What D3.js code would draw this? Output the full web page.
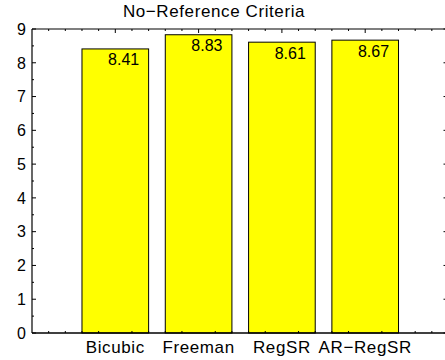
<!DOCTYPE html>
<html>
<head>
<meta charset="utf-8">
<script src="https://cdn.jsdelivr.net/npm/d3@7"></script>
<style>
html,body{margin:0;padding:0;background:#fff;}
svg{display:block;}
text{font-family:"Liberation Sans",Arial,Helvetica,sans-serif;fill:#000;}
</style>
</head>
<body>
<script>
const categories = ["Bicubic", "Freeman", "RegSR", "AR\u2212RegSR"];
const values = [8.41, 8.83, 8.61, 8.67];
const valueLabels = ["8.41", "8.83", "8.61", "8.67"];
const yTicks = [0, 1, 2, 3, 4, 5, 6, 7, 8, 9];
const title = "No\u2212Reference Criteria";

const W = 445, H = 360;
const svg = d3.select("body").append("svg").attr("width", W).attr("height", H);

const x = d3.scaleLinear().domain([0, 5]).range([32, 448.5]);
const y = d3.scaleLinear().domain([0, 9]).range([333, 29]);
const barW = 0.8;

// bars
svg.append("g").selectAll("rect").data(values).join("rect")
  .attr("x", (d, i) => x(i + 1 - barW / 2))
  .attr("y", d => y(d))
  .attr("width", x(barW) - x(0))
  .attr("height", d => y(0) - y(d))
  .attr("fill", "#ffff00")
  .attr("stroke", "#000")
  .attr("stroke-width", 1);

// value labels
svg.append("g").selectAll("text").data(values).join("text")
  .attr("x", (d, i) => x(i + 1.1))
  .attr("y", d => y(d) + 16.5)
  .attr("text-anchor", "middle")
  .attr("font-size", 16)
  .text((d, i) => valueLabels[i]);

// axes box
const x0 = x(0), x1 = x(5), yb = y(0), yt = y(9);
const box = svg.append("g").attr("stroke", "#000").attr("fill", "none");
box.append("line").attr("x1", x0).attr("x2", x0).attr("y1", yt).attr("y2", yb).attr("stroke-width", 1.2);
box.append("line").attr("x1", x0).attr("x2", x1).attr("y1", yb).attr("y2", yb).attr("stroke-width", 1.5);
box.append("line").attr("x1", x0).attr("x2", x1).attr("y1", yt).attr("y2", yt).attr("stroke-width", 1.2);
box.append("line").attr("x1", x1).attr("x2", x1).attr("y1", yt).attr("y2", yb).attr("stroke-width", 1.2);

// y ticks (left inward, right inward)
const yMinor = d3.range(0, 9.01, 0.5).filter(v => Math.abs(v - Math.round(v)) > 0.01);
const tk = svg.append("g").attr("stroke", "#000").attr("stroke-width", 1);
yTicks.forEach(v => {
  tk.append("line").attr("x1", x0).attr("x2", x0 + 4).attr("y1", y(v)).attr("y2", y(v));
  tk.append("line").attr("x1", x1).attr("x2", x1 - 5).attr("y1", y(v)).attr("y2", y(v));
});
yMinor.forEach(v => {
  tk.append("line").attr("x1", x0).attr("x2", x0 + 2).attr("y1", y(v)).attr("y2", y(v));
  tk.append("line").attr("x1", x1).attr("x2", x1 - 2).attr("y1", y(v)).attr("y2", y(v));
});
// x ticks top and bottom
const xMajor = [1, 2, 3, 4];
const xMinor = d3.range(0.2, 5, 0.2).filter(v => Math.abs(v - Math.round(v)) > 0.01);
xMajor.forEach(v => {
  tk.append("line").attr("x1", x(v)).attr("x2", x(v)).attr("y1", yt).attr("y2", yt + 4);
});
xMinor.forEach(v => {
  tk.append("line").attr("x1", x(v)).attr("x2", x(v)).attr("y1", yt).attr("y2", yt + 2);
  tk.append("line").attr("x1", x(v)).attr("x2", x(v)).attr("y1", yb).attr("y2", yb - 2);
});

// y tick labels
svg.append("g").selectAll("text").data(yTicks).join("text")
  .attr("x", 26)
  .attr("y", d => y(d))
  .attr("dy", "0.36em")
  .attr("text-anchor", "end")
  .attr("font-size", 16)
  .text(d => d);

// x labels
svg.append("g").selectAll("text").data(categories).join("text")
  .attr("x", (d, i) => x(i + 1))
  .attr("y", 353)
  .attr("text-anchor", "middle")
  .attr("font-size", 17)
  .attr("letter-spacing", "0.6px")
  .text(d => d);

// title
svg.append("text")
  .attr("x", 214)
  .attr("y", 17)
  .attr("text-anchor", "middle")
  .attr("font-size", 17)
  .attr("letter-spacing", "0.6px")
  .text(title);
</script>
</body>
</html>
